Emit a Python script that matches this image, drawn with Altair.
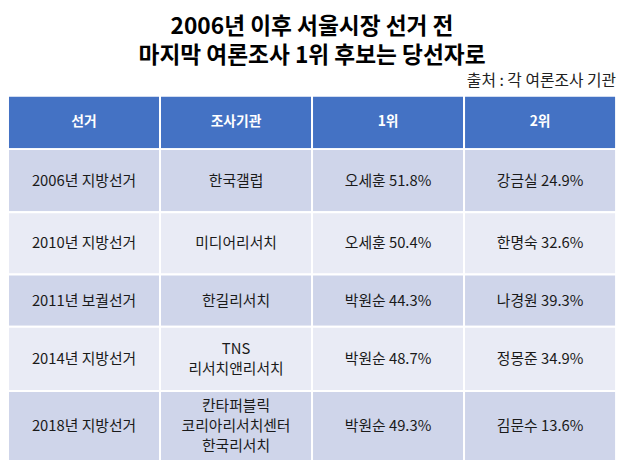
import altair as alt
import pandas as pd

FONT = "Noto Sans CJK KR"

TITLE_LINES = ["2006년 이후 서울시장 선거 전", "마지막 여론조사 1위 후보는 당선자로"]
SOURCE = "출처 : 각 여론조사 기관"

HEADERS = ["선거", "조사기관", "1위", "2위"]
ELECTIONS = ["2006년 지방선거", "2010년 지방선거", "2011년 보궐선거", "2014년 지방선거", "2018년 지방선거"]
AGENCIES = ["한국갤럽", "미디어리서치", "한길리서치", "TNS\n리서치앤리서치", "칸타퍼블릭\n코리아리서치센터\n한국리서치"]
FIRST_NAMES = ["오세훈", "오세훈", "박원순", "박원순", "박원순"]
FIRST_PCT = [51.8, 50.4, 44.3, 48.7, 49.3]
SECOND_NAMES = ["강금실", "한명숙", "나경원", "정몽준", "김문수"]
SECOND_PCT = [24.9, 32.6, 39.3, 34.9, 13.6]

# layout: heights of header row and body rows (in pixels), and text line height
ROW_HEIGHTS = [54, 64, 63, 53, 65, 71]
LINE_H = 20

rows = [HEADERS]
kinds = ["header"]
for i in range(len(ELECTIONS)):
    rows.append([
        ELECTIONS[i],
        AGENCIES[i],
        f"{FIRST_NAMES[i]} {FIRST_PCT[i]:.1f}%",
        f"{SECOND_NAMES[i]} {SECOND_PCT[i]:.1f}%",
    ])
    kinds.append("odd" if i % 2 == 0 else "even")

records = []
top = 0
for r, (cells, kind) in enumerate(zip(rows, kinds)):
    h = ROW_HEIGHTS[r]
    for c, txt in enumerate(cells):
        n = txt.count("\n") + 1
        mid = top + h / 2
        records.append({
            "col": HEADERS[c],
            "top": top,
            "bottom": top + h,
            "ty": mid - (n - 1) * LINE_H / 2,
            "text": txt,
            "kind": kind,
        })
    top += h
TOTAL = top
df = pd.DataFrame(records)

yscale = alt.Scale(domain=[0, TOTAL], reverse=True, nice=False, zero=True)

base = alt.Chart(df).encode(
    x=alt.X("col:N", sort=HEADERS, scale=alt.Scale(paddingInner=0, paddingOuter=0), axis=None)
)

rects = base.mark_rect(stroke="white", strokeWidth=2).encode(
    y=alt.Y("top:Q", scale=yscale, axis=None),
    y2="bottom:Q",
    color=alt.Color(
        "kind:N",
        scale=alt.Scale(domain=["header", "odd", "even"], range=["#4472C4", "#CFD5EA", "#E9EBF5"]),
        legend=None,
    ),
)

header_text = base.transform_filter(alt.datum.kind == "header").mark_text(
    font=FONT, fontSize=14, fontWeight="bold", color="white", baseline="middle"
).encode(y=alt.Y("ty:Q", scale=yscale, axis=None), text="text:N")

body_text = base.transform_filter(alt.datum.kind != "header").mark_text(
    font=FONT, fontSize=15, color="#1a1a1a", baseline="middle", lineBreak="\n", lineHeight=LINE_H
).encode(y=alt.Y("ty:Q", scale=yscale, axis=None), text="text:N")

source = alt.Chart(pd.DataFrame({"t": [SOURCE]})).mark_text(
    font=FONT, fontSize=16, color="#222222", align="right", baseline="alphabetic"
).encode(x=alt.value(616), y=alt.value(-10), text="t:N")

chart = alt.layer(rects, header_text, body_text, source).properties(
    width=616,
    height=TOTAL,
    autosize="none",
    padding={"left": 0, "top": 86, "right": 6, "bottom": 0},
    title=alt.TitleParams(
        text=TITLE_LINES,
        font=FONT,
        fontSize=23,
        fontWeight="bold",
        color="black",
        anchor="middle",
        lineHeight=30,
        offset=5,
    ),
).configure_view(strokeWidth=0)

chart.save("out.html", embed_options={"renderer": "svg", "actions": False})
